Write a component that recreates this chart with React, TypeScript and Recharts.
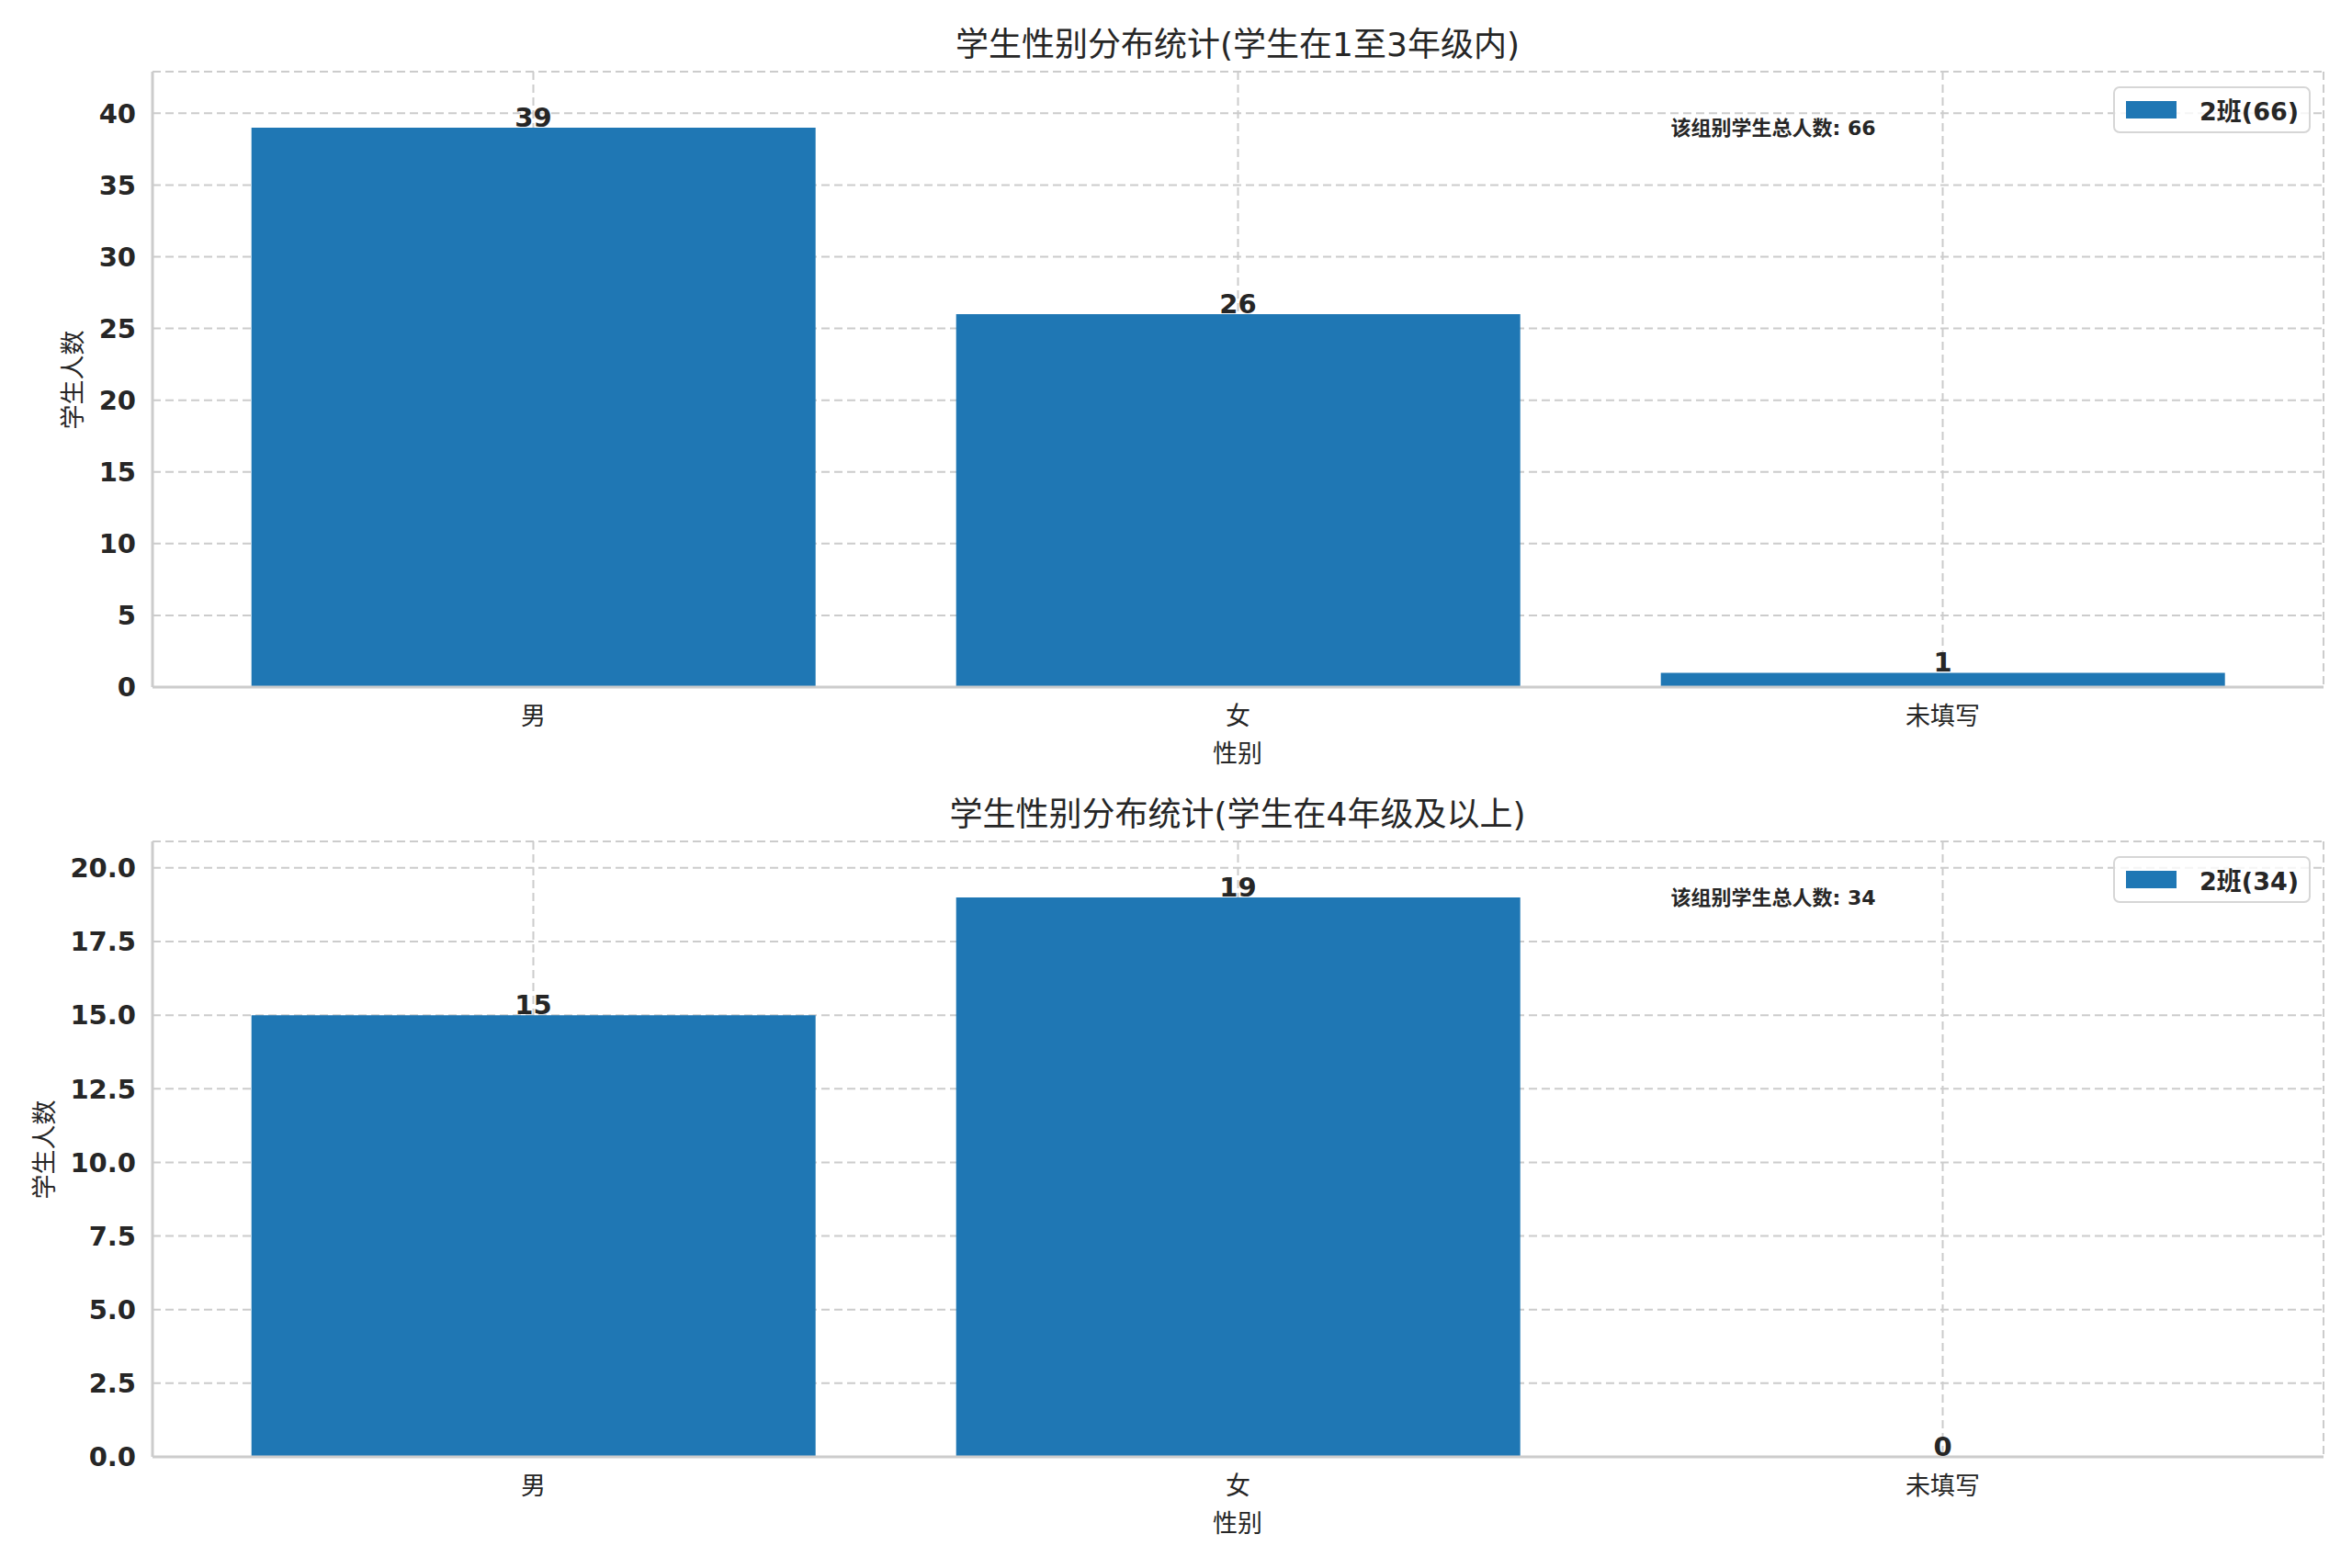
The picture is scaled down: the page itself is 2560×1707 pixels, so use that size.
import React from 'react';
import {
  Bar,
  BarChart,
  CartesianGrid,
  ReferenceDot,
  XAxis,
  YAxis,
} from 'recharts';

const categories = ['男', '女', '未填写'];
const lowerCounts = [39, 26, 1];
const upperCounts = [15, 19, 0];
const lowerTicks = [0, 5, 10, 15, 20, 25, 30, 35, 40];
const upperTicks = [0, 2.5, 5, 7.5, 10, 12.5, 15, 17.5, 20];
const titles = ['学生性别分布统计(学生在1至3年级内)', '学生性别分布统计(学生在4年级及以上)'];
const legendNames = ['2班(66)', '2班(34)'];
const totals = [66, 34];

const FONT = '"DejaVu Sans", "Noto Sans CJK SC", sans-serif';
const INK = '#262626';
const SPINE = '#cccccc';
const BLUE = '#1f77b4';

type PanelProps = {
  title: string;
  counts: number[];
  ticks: number[];
  yMax: number;
  tickFmt: (v: number) => string;
  legendName: string;
  total: number;
  yLabelX: number;
};

function Panel({ title, counts, ticks, yMax, tickFmt, legendName, total, yLabelX }: PanelProps) {
  const data = categories.map((c, i) => ({ name: c, count: counts[i] }));
  const peak = Math.max(...counts);

  return (
    <div style={{ position: 'relative', width: 2560, height: 853 }}>
      <div
        style={{
          position: 'absolute',
          left: 166,
          width: 2362,
          top: 28,
          textAlign: 'center',
          fontSize: 36,
          color: INK,
          lineHeight: '42px',
        }}
      >
        {title}
      </div>
      <div
        style={{
          position: 'absolute',
          left: yLabelX - 20,
          top: 413 - 20,
          width: 40,
          height: 40,
          display: 'flex',
          alignItems: 'center',
          justifyContent: 'center',
        }}
      >
        <div style={{ transform: 'rotate(-90deg)', whiteSpace: 'nowrap', fontSize: 27, color: INK }}>
          学生人数
        </div>
      </div>
      <div
        style={{
          position: 'absolute',
          left: 166,
          width: 2362,
          top: 804,
          textAlign: 'center',
          fontSize: 27,
          color: INK,
          lineHeight: '34px',
        }}
      >
        性别
      </div>
      <BarChart
        width={2560}
        height={853}
        data={data}
        margin={{ top: 78, right: 31, left: 0, bottom: 45 }}
        barCategoryGap="10%"
        style={{ position: 'absolute', left: 0, top: 0 }}
      >
        <CartesianGrid stroke={SPINE} strokeWidth={2} strokeDasharray="9 5" />
        <XAxis
          dataKey="name"
          height={60}
          padding={{ left: 31, right: 31 }}
          axisLine={{ stroke: SPINE, strokeWidth: 3 }}
          tickLine={false}
          tickMargin={16}
          tick={{ fontSize: 27, fill: INK, fontFamily: FONT }}
        />
        <XAxis xAxisId="top" orientation="top" dataKey="name" height={0} tick={false} tickLine={false} axisLine={{ stroke: SPINE, strokeWidth: 3 }} />
        <YAxis
          width={166}
          domain={[0, yMax]}
          ticks={ticks}
          allowDataOverflow
          tickFormatter={tickFmt}
          axisLine={{ stroke: SPINE, strokeWidth: 3 }}
          tickLine={false}
          tickMargin={12}
          tick={{ fontSize: 29, fill: INK, fontWeight: 'bold', fontFamily: FONT }}
        />
        <YAxis yAxisId="right" orientation="right" width={0} domain={[0, yMax]} tick={false} tickLine={false} axisLine={{ stroke: SPINE, strokeWidth: 3 }} />
        <Bar dataKey="count" fill={BLUE} isAnimationActive={false} />
        {data.map((d) => (
          <ReferenceDot
            key={d.name}
            x={d.name}
            y={d.count}
            r={0}
            stroke="none"
            fill="none"
            label={(props: any) => {
              const vb = props.viewBox || {};
              const cx = (vb.x ?? 0) + (vb.width ?? 0) / 2;
              const cy = (vb.y ?? 0) + (vb.height ?? 0) / 2;
              return (
                <text
                  x={cx}
                  y={cy - 1}
                  textAnchor="middle"
                  fontSize={29}
                  fontWeight="bold"
                  fill={INK}
                  fontFamily={FONT}
                >
                  {d.count}
                </text>
              );
            }}
          />
        ))}
        <ReferenceDot
          x={categories[2]}
          y={peak}
          r={0}
          stroke="none"
          fill="none"
          label={(props: any) => {
            const vb = props.viewBox || {};
            const cx = (vb.x ?? 0) + (vb.width ?? 0) / 2;
            const cy = (vb.y ?? 0) + (vb.height ?? 0) / 2;
            return (
              <text
                x={cx - 296}
                y={cy}
                dy="0.35em"
                fontSize={22}
                fontWeight="bold"
                fill={INK}
                fontFamily={FONT}
              >
                {`该组别学生总人数: ${total}`}
              </text>
            );
          }}
        />
      </BarChart>
      <div
        style={{
          position: 'absolute',
          left: 2300,
          top: 94,
          height: 51,
          boxSizing: 'border-box',
          display: 'flex',
          alignItems: 'center',
          border: '2px solid #d6d6d6',
          borderRadius: 7,
          background: 'rgba(255,255,255,0.8)',
          padding: '0 11px 0 12px',
        }}
      >
        <div style={{ width: 55, height: 19, background: BLUE, marginRight: 25 }} />
        <span style={{ fontSize: 27, fontWeight: 'bold', color: INK, fontFamily: FONT }}>{legendName}</span>
      </div>
    </div>
  );
}

export default function App() {
  return (
    <div
      style={{
        position: 'absolute',
        left: 0,
        top: 0,
        width: 2560,
        height: 1707,
        background: '#ffffff',
        fontFamily: FONT,
      }}
    >
      <Panel
        title={titles[0]}
        counts={lowerCounts}
        ticks={lowerTicks}
        yMax={42.9}
        tickFmt={(v) => String(v)}
        legendName={legendNames[0]}
        total={totals[0]}
        yLabelX={77}
      />
      <div style={{ position: 'absolute', left: 0, top: 838 }}>
        <Panel
          title={titles[1]}
          counts={upperCounts}
          ticks={upperTicks}
          yMax={20.9}
          tickFmt={(v) => v.toFixed(1)}
          legendName={legendNames[1]}
          total={totals[1]}
          yLabelX={46}
        />
      </div>
    </div>
  );
}
